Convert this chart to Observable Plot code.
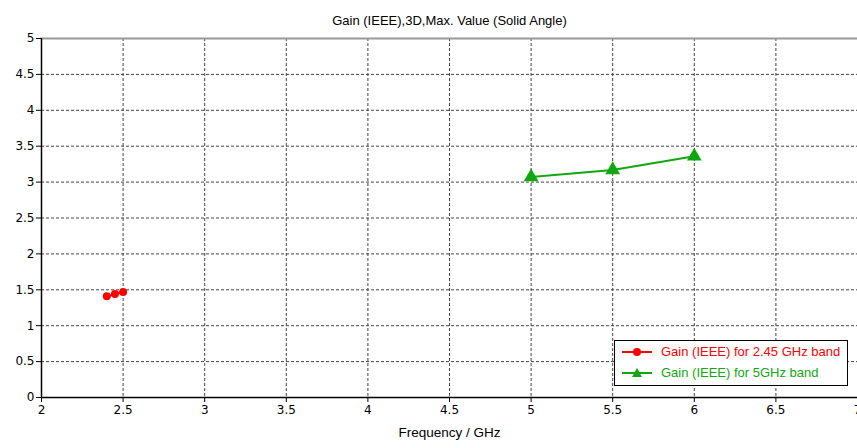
<!DOCTYPE html>
<html>
<head>
<meta charset="utf-8">
<script src="https://cdn.jsdelivr.net/npm/d3@7"></script>
<script src="https://cdn.jsdelivr.net/npm/@observablehq/plot@0.6"></script>
<style>
  body { margin: 0; background: #fff; }
  #wrap { position: relative; width: 857px; height: 448px; font-family: "Liberation Sans", "DejaVu Sans", sans-serif; }
  #legend { position: absolute; left: 614px; top: 340px; width: 232px; height: 44px; border: 1.5px solid #000; background: #fff; font-size: 13px; }
  #legend .row { display: flex; align-items: center; height: 21px; padding-left: 6px; }
  #legend svg { margin-right: 6px; }
</style>
</head>
<body>
<div id="wrap"></div>
<script>
const title = "Gain (IEEE),3D,Max. Value (Solid Angle)";
const xLabel = "Frequency / GHz";
const xTicks = [2, 2.5, 3, 3.5, 4, 4.5, 5, 5.5, 6, 6.5, 7];
const yTicks = [0, 0.5, 1, 1.5, 2, 2.5, 3, 3.5, 4, 4.5, 5];

const bandA_freq = [2.4, 2.45, 2.5];
const bandA_gain = [1.41, 1.44, 1.47];
const bandA_name = "Gain (IEEE) for 2.45 GHz band";

const bandB_freq = [5, 5.5, 6];
const bandB_gain = [3.07, 3.17, 3.36];
const bandB_name = "Gain (IEEE) for 5GHz band";

const red = "#ff0000";
const green = "#10a810";

const dataA = bandA_freq.map((f, i) => ({f, g: bandA_gain[i]}));
const dataB = bandB_freq.map((f, i) => ({f, g: bandB_gain[i]}));

const chart = Plot.plot({
  width: 857,
  height: 448,
  marginLeft: 41,
  marginRight: 0,
  marginTop: 38,
  marginBottom: 51,
  style: { fontFamily: "Liberation Sans, DejaVu Sans, sans-serif", fontSize: "13px", color: "#000", background: "#fff" },
  x: { domain: [2, 7], ticks: xTicks, tickFormat: d => String(d) },
  y: { domain: [0, 5], ticks: yTicks, tickFormat: d => String(d) },
  marks: [
    Plot.gridX(xTicks.slice(1), { stroke: "#444", strokeOpacity: 1, strokeDasharray: "3,2" }),
    Plot.gridY(yTicks.slice(1), { stroke: "#444", strokeOpacity: 1, strokeDasharray: "3,2" }),
    Plot.frame({ anchor: "top", stroke: "#999", strokeWidth: 2 }),
    Plot.axisX({ ticks: xTicks, tickSize: 5, tickPadding: 3, label: null, tickFormat: d => String(d) }),
    Plot.axisY({ ticks: yTicks, tickSize: 5, tickPadding: 2, label: null, tickFormat: d => String(d) }),
    Plot.ruleX([2], { stroke: "#000", strokeWidth: 1.5 }),
    Plot.ruleY([0], { stroke: "#000", strokeWidth: 1.5 }),
    Plot.line(dataA, { x: "f", y: "g", stroke: red, strokeWidth: 2 }),
    Plot.dot(dataA, { x: "f", y: "g", fill: red, r: 4, symbol: "circle" }),
    Plot.line(dataB, { x: "f", y: "g", stroke: green, strokeWidth: 2 }),
    Plot.dot(dataB, { x: "f", y: "g", fill: green, r: 5.5, symbol: "triangle" }),
    Plot.text([title], { frameAnchor: "top", dy: -23, fontSize: 13, fill: "#000" }),
    Plot.text([xLabel], { frameAnchor: "bottom", dy: 39, fontSize: 13.5, fill: "#000" })
  ]
});

d3.select(chart).selectAll('g[aria-label$="tick label"]')
  .style("font-family", "'DejaVu Sans', sans-serif")
  .style("font-size", "12px")
  .selectAll("text")
  .style("font-family", "'DejaVu Sans', sans-serif")
  .style("font-size", "12px");

const wrap = document.getElementById("wrap");
wrap.appendChild(chart);

const legend = document.createElement("div");
legend.id = "legend";
const entries = [
  { name: bandA_name, color: red, sym: "circle" },
  { name: bandB_name, color: green, sym: "triangle" }
];
for (const e of entries) {
  const row = document.createElement("div");
  row.className = "row";
  const marker = e.sym === "circle"
    ? `<circle cx="16" cy="8" r="4" fill="${e.color}"/>`
    : `<path d="M16,3 L21,12 L11,12 Z" fill="${e.color}"/>`;
  row.innerHTML = `<svg width="34" height="16"><line x1="1" y1="8" x2="31" y2="8" stroke="${e.color}" stroke-width="2"/>${marker}</svg><span style="color:${e.color}">${e.name}</span>`;
  legend.appendChild(row);
}
wrap.appendChild(legend);
</script>
</body>
</html>
